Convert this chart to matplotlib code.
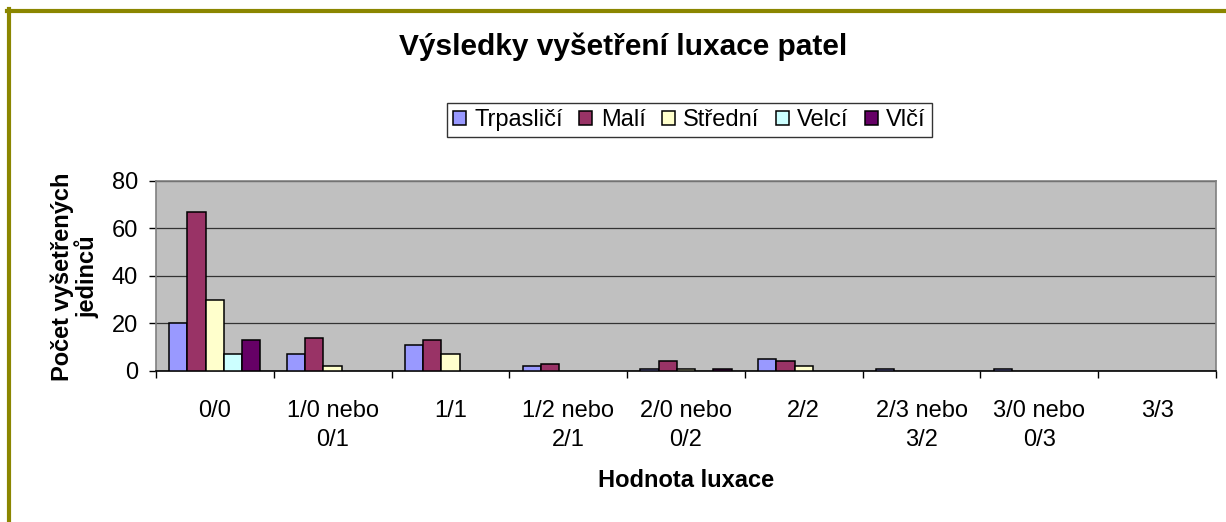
import matplotlib
matplotlib.use('Agg')
import matplotlib.pyplot as plt
import numpy as np
from matplotlib.lines import Line2D

plt.rcParams['font.family'] = ['Liberation Sans', 'DejaVu Sans']

# data
categories = ['0/0', '1/0 nebo\n0/1', '1/1', '1/2 nebo\n2/1', '2/0 nebo\n0/2',
              '2/2', '2/3 nebo\n3/2', '3/0 nebo\n0/3', '3/3']
series_names = ['Trpasličí', 'Malí', 'Střední', 'Velcí', 'Vlčí']
trpaslici = [20, 7, 11, 2, 1, 5, 1, 1, 0]
mali = [67, 14, 13, 3, 4, 4, 0, 0, 0]
stredni = [30, 2, 7, 0, 1, 2, 0, 0, 0]
velci = [7, 0, 0, 0, 0, 0, 0, 0, 0]
vlci = [13, 0, 0, 0, 1, 0, 0, 0, 0]
colors = ['#9999FF', '#993366', '#FFFFCC', '#CCFFFF', '#660066']

fig = plt.figure(figsize=(12.26, 5.22), dpi=100)
fig.patch.set_facecolor('white')
ax = fig.add_axes([0.1272, 0.2893, 0.8646, 0.364])
ax.set_facecolor('#C0C0C0')

x = np.arange(len(categories))
w = 0.155
for i, (name, vals) in enumerate(zip(series_names, [trpaslici, mali, stredni, velci, vlci])):
    # nulové hodnoty Excel nekreslí
    vals = np.array(vals, dtype=float)
    lw = [1.1 if v > 0 else 0 for v in vals]
    ax.bar(x - 2 * w + i * w, vals, width=w, color=colors[i], edgecolor='black',
           linewidth=lw, label=name, zorder=3)

ax.set_xlim(-0.5, len(categories) - 0.5)
ax.set_ylim(0, 80)
ax.set_yticks([0, 20, 40, 60, 80])
ax.yaxis.grid(True, color='#333333', linewidth=0.9, zorder=1)
ax.set_axisbelow(True)

# kategorie: čárky na hranicích, popisky uprostřed
ax.set_xticks(np.arange(len(categories) + 1) - 0.5)
ax.set_xticklabels([])
ax.set_xticks(x, minor=True)
ax.set_xticklabels(categories, minor=True, fontsize=17, linespacing=1.4)
ax.tick_params(axis='x', which='minor', length=0, pad=21)
ax.tick_params(axis='x', which='major', length=5, width=1, color='black')
ax.tick_params(axis='y', length=5, width=1, labelsize=17, pad=8)

for s in ['top', 'right', 'left']:
    ax.spines[s].set_color('#808080')
    ax.spines[s].set_linewidth(1.2)
ax.spines['bottom'].set_color('black')
ax.spines['bottom'].set_linewidth(1.2)

fig.text(0.508, 0.910, 'Výsledky vyšetření luxace patel', fontsize=21.5,
         fontweight='bold', ha='center', va='center')
fig.text(0.061, 0.469, 'Počet vyšetřených\njedinců', fontsize=17, fontweight='bold',
         rotation=90, ha='center', va='center', multialignment='center',
         linespacing=1.0)
fig.text(0.5595, 0.080, 'Hodnota luxace', fontsize=17, fontweight='bold',
         ha='center', va='center')

leg = fig.legend(loc='center', bbox_to_anchor=(0.5624, 0.770), ncol=5,
                 fontsize=17, frameon=True, fancybox=False, handlelength=0.55,
                 handleheight=0.55, handletextpad=0.35, columnspacing=0.7,
                 borderpad=0.25, borderaxespad=0)
leg.get_frame().set_edgecolor('black')
leg.get_frame().set_linewidth(1.0)

# olivový rámeček nahoře a vlevo
fig.add_artist(Line2D([7 / 1226, 1], [1 - 11 / 522, 1 - 11 / 522], color='#8B8600',
                      linewidth=3, transform=fig.transFigure))
fig.add_artist(Line2D([9 / 1226, 9 / 1226], [0, 1 - 9 / 522], color='#8B8600',
                      linewidth=3, transform=fig.transFigure))

fig.savefig('out.png', dpi=100)
